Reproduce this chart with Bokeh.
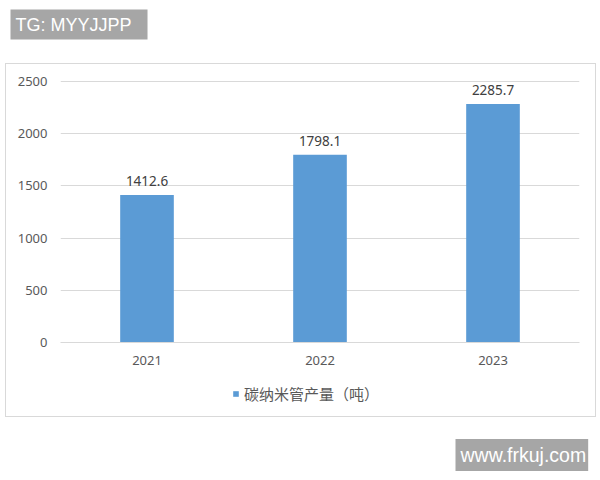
from bokeh.plotting import figure
from bokeh.layouts import column
from bokeh.models import (ColumnDataSource, Range1d, FactorRange, FixedTicker,
                          LabelSet, Label, Legend, LegendItem)
from bokeh.core.properties import value
from bokeh.embed import file_html
from bokeh.resources import INLINE

years = ["2021", "2022", "2023"]
output = [1412.6, 1798.1, 2285.7]
y_ticks = [0, 500, 1000, 1500, 2000, 2500]
series_name = "碳纳米管产量（吨）"
watermark_top = "TG: MYYJJPP"
watermark_bottom = "www.frkuj.com"

BAR = "#5b9bd5"
GRID = "#d9d9d9"
TXT = "#595959"


def blank(width, height, x_range=None, y_range=None):
    f = figure(width=width, height=height, output_backend="svg",
               toolbar_location=None, x_axis_type=None, y_axis_type=None,
               x_range=x_range or Range1d(0, 1), y_range=y_range or Range1d(0, 1),
               min_border=0)
    f.outline_line_color = None
    f.border_fill_color = "white"
    f.background_fill_color = "white"
    f.grid.visible = False
    return f


def box_label(x, y, text, size, pad):
    kw = dict(x=x, y=y, x_units="screen", y_units="screen", text=text,
              text_font="Liberation Sans", text_font_size=size,
              text_color="white", text_baseline="middle",
              background_fill_color="#a6a6a6", background_fill_alpha=1)
    try:
        return Label(padding=pad, **kw)
    except Exception:
        return Label(padding=5, **kw)


# ---- top watermark strip
top = blank(600, 63)
top.add_layout(box_label(10, 39, watermark_top, "18px",
                         dict(left=5, right=16, top=5, bottom=5)))

# ---- main chart
src = ColumnDataSource(dict(year=years, value=output,
                            label=[f"{v:.1f}" for v in output]))
p = figure(x_range=years, y_range=Range1d(0, 2520), width=589, height=311,
           output_backend="svg", toolbar_location=None,
           min_border_left=54, min_border_right=16, min_border_top=15,
           min_border_bottom=33)
p.outline_line_color = None
p.background_fill_color = "white"
p.border_fill_color = "white"

r = p.vbar(x="year", top="value", width=0.31, source=src,
           fill_color=BAR, line_color=None)

p.xgrid.grid_line_color = None
p.ygrid.grid_line_color = GRID
p.ygrid.ticker = FixedTicker(ticks=y_ticks)
p.yaxis.ticker = FixedTicker(ticks=y_ticks)
p.yaxis.axis_line_color = None
p.yaxis.major_tick_line_color = None
p.yaxis.minor_tick_line_color = None
p.yaxis.major_tick_out = 0
p.yaxis.major_label_standoff = 13
p.yaxis.major_label_text_font = "Noto Sans"
p.yaxis.major_label_text_font_size = "13px"
p.yaxis.major_label_text_color = TXT

p.xaxis.axis_line_color = GRID
p.xaxis.major_tick_line_color = None
p.xaxis.minor_tick_line_color = None
p.xaxis.major_tick_out = 0
p.xaxis.major_label_standoff = 13
p.xaxis.major_label_text_font = "Noto Sans"
p.xaxis.major_label_text_font_size = "13px"
p.xaxis.major_label_text_color = TXT
p.x_range.range_padding = 0.0

p.add_layout(LabelSet(x="year", y="value", text="label", source=src,
                      text_align="center", text_baseline="middle", y_offset=14,
                      text_font=value("Noto Sans"), text_font_size=value("13.5px"),
                      text_color="#404040"))

# ---- legend strip (inside the chart box); the series is attached here as a
# hidden legend proxy so that only its swatch is drawn
leg = blank(589, 41, x_range=FactorRange(*years), y_range=Range1d(0, 2520))
proxy = leg.vbar(x="year", top="value", width=0.31, source=src,
                 fill_color=BAR, line_color=None)
proxy.visible = False
leg.add_layout(Legend(items=[LegendItem(label=series_name, renderers=[proxy])],
                      location=(172, 12), orientation="horizontal",
                      glyph_width=7, glyph_height=7, label_standoff=5,
                      label_text_font="Noto Sans CJK SC",
                      label_text_font_size="15px", label_text_color=TXT,
                      padding=0, margin=0, border_line_color=None,
                      background_fill_alpha=0, inactive_fill_alpha=0))

box = column(p, leg, margin=(0, 0, 0, 5),
             styles={"border": f"1px solid {GRID}"})

# ---- bottom watermark strip
bottom = blank(600, 63)
bottom.add_layout(box_label(455, 25.5, watermark_bottom, "19.5px",
                            dict(left=5, right=2, top=5, bottom=5)))

page = column(top, box, bottom)
open("out.html", "w").write(file_html(page, INLINE))
